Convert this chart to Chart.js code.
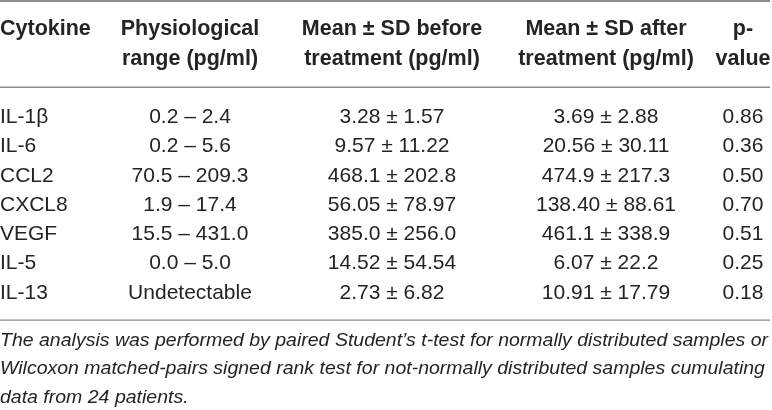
<!DOCTYPE html>
<html>
<head>
<meta charset="utf-8">
<script src="https://cdn.jsdelivr.net/npm/chart.js@4"></script>
<style>
  html, body { margin: 0; padding: 0; background: #ffffff; }
  #wrap { position: relative; width: 772px; height: 410px; }
</style>
</head>
<body>
<div id="wrap"><canvas id="c"></canvas></div>
<script>
// ---- table content ----
const headerLines = [
  ['Cytokine'],
  ['Physiological', 'range (pg/ml)'],
  ['Mean ± SD before', 'treatment (pg/ml)'],
  ['Mean ± SD after', 'treatment (pg/ml)'],
  ['p-', 'value']
];
const cytokines = ['IL-1β', 'IL-6', 'CCL2', 'CXCL8', 'VEGF', 'IL-5', 'IL-13'];
const physRange = ['0.2 – 2.4', '0.2 – 5.6', '70.5 – 209.3', '1.9 – 17.4', '15.5 – 431.0', '0.0 – 5.0', 'Undetectable'];
const beforeMean = ['3.28', '9.57', '468.1', '56.05', '385.0', '14.52', '2.73'];
const beforeSD   = ['1.57', '11.22', '202.8', '78.97', '256.0', '54.54', '6.82'];
const afterMean  = ['3.69', '20.56', '474.9', '138.40', '461.1', '6.07', '10.91'];
const afterSD    = ['2.88', '30.11', '217.3', '88.61', '338.9', '22.2', '17.79'];
const pValues    = ['0.86', '0.36', '0.50', '0.70', '0.51', '0.25', '0.18'];
const footnote = [
  'The analysis was performed by paired Student’s t-test for normally distributed samples or',
  'Wilcoxon matched-pairs signed rank test for not-normally distributed samples cumulating',
  'data from 24 patients.'
];

// ---- layout (scale units) ----
const TABLE_W = 772;
const colPos = [0, 190, 392, 606, 743];          // x anchor of each column
const colAlign = ['left', 'center', 'center', 'center', 'center'];
const headerRows = [-3.0, -1.98];                // row positions of the two header lines
const ruleRows = [-3.97, -1.02, 6.93];           // horizontal rules
const ruleWidths = [2, 1.4, 1.4];
const footRows = [7.62, 8.6, 9.58];
const FOOT_W = 768;

const columns = [
  cytokines,
  physRange,
  beforeMean.map((m, i) => m + ' ± ' + beforeSD[i]),
  afterMean.map((m, i) => m + ' ± ' + afterSD[i]),
  pValues
];

const datasets = columns.map((col, c) => ({
  label: 'col' + c,
  data: col.map((_, r) => ({ x: colPos[c], y: r })),
  cellText: col,
  pointRadius: 0,
  pointHoverRadius: 0,
  showLine: false
}));

const FONT = '"Liberation Sans", Arial, Helvetica, sans-serif';
const TEXT = '#262324';
const RULE = '#8c8c8c';

const tablePlugin = {
  id: 'tablePlugin',
  afterDatasetsDraw(chart) {
    const ctx = chart.ctx;
    const xs = chart.scales.x, ys = chart.scales.y;
    ctx.save();
    // rules
    ctx.strokeStyle = RULE;
    ruleRows.forEach((r, i) => {
      const y = ys.getPixelForValue(r);
      ctx.lineWidth = ruleWidths[i];
      ctx.beginPath();
      ctx.moveTo(xs.getPixelForValue(0), y);
      ctx.lineTo(xs.getPixelForValue(TABLE_W - 2), y);
      ctx.stroke();
    });
    // header
    ctx.fillStyle = TEXT;
    ctx.textBaseline = 'middle';
    ctx.font = 'bold 21.5px ' + FONT;
    headerLines.forEach((lines, c) => {
      ctx.textAlign = colAlign[c];
      lines.forEach((t, k) => {
        ctx.fillText(t, xs.getPixelForValue(colPos[c]), ys.getPixelForValue(headerRows[k]));
      });
    });
    // body cells from dataset elements
    ctx.font = '21px ' + FONT;
    chart.data.datasets.forEach((ds, c) => {
      const meta = chart.getDatasetMeta(c);
      ctx.textAlign = colAlign[c];
      meta.data.forEach((el, r) => {
        ctx.fillText(ds.cellText[r], el.x, el.y);
      });
    });
    // footnote
    ctx.font = 'italic 19px ' + FONT;
    ctx.textAlign = 'left';
    const sx = FOOT_W / ctx.measureText(footnote[0]).width;
    footnote.forEach((t, k) => {
      const y = ys.getPixelForValue(footRows[k]);
      ctx.save();
      ctx.translate(xs.getPixelForValue(0), y);
      ctx.scale(sx, 1);
      ctx.fillText(t, 0, 0);
      ctx.restore();
    });
    ctx.restore();
  }
};

new Chart(document.getElementById('c'), {
  type: 'scatter',
  data: { datasets },
  options: {
    responsive: true,
    maintainAspectRatio: false,
    animation: false,
    events: [],
    layout: { padding: 0 },
    plugins: { legend: { display: false }, tooltip: { enabled: false } },
    scales: {
      x: { type: 'linear', min: 0, max: TABLE_W, display: false },
      y: { type: 'linear', min: -4, max: 10, reverse: true, display: false }
    }
  },
  plugins: [tablePlugin]
});
</script>
</body>
</html>
